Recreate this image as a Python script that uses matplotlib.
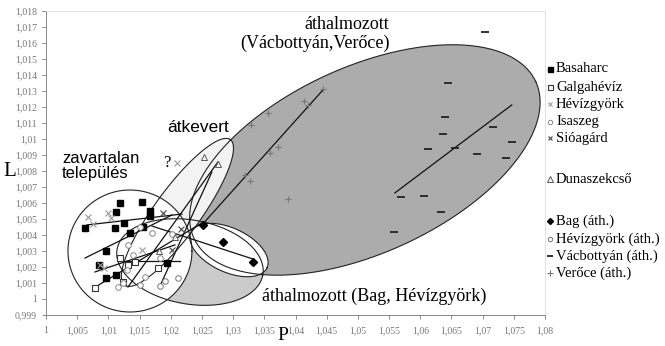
import matplotlib
matplotlib.use("Agg")
import matplotlib.pyplot as plt
import numpy as np
from matplotlib.ticker import FuncFormatter, MultipleLocator

plt.rcParams['font.family'] = ['Liberation Serif', 'DejaVu Serif']

# mért pontok (P, L) lelőhelyenként
basaharc_p = [1.01186, 1.01538, 1.01122, 1.01667, 1.01667, 1.00625, 1.01106, 1.0125,
              1.01346, 1.01554, 1.00962, 1.00849, 1.00962, 1.01122, 1.01939]
basaharc_l = [1.006, 1.00606, 1.00544, 1.0055, 1.00519, 1.00444, 1.00444, 1.00475,
              1.00413, 1.0045, 1.003, 1.00213, 1.00131, 1.0015, 1.00225]

galga_p = [1.00785, 1.01186, 1.01314, 1.01426, 1.01795, 1.01234]
galga_l = [1.00069, 1.00256, 1.00213, 1.00231, 1.00194, 1.00106]

hevizgy_p = [1.00673, 1.00753, 1.00994, 1.01042, 1.01538, 1.00865, 1.0093, 1.021]
hevizgy_l = [1.00513, 1.00469, 1.00538, 1.00506, 1.00306, 1.00213, 1.00194, 1.0085]

isaszeg_p = [1.01506, 1.01699, 1.02019, 1.01314, 1.01394, 1.01827, 1.01298, 1.01234,
             1.01154, 1.01587]
isaszeg_l = [1.0045, 1.00413, 1.00406, 1.00338, 1.00275, 1.00256, 1.00181, 1.001,
             1.00075, 1.00138]

sioagard_p = [1.01875, 1.02019, 1.02163]
sioagard_l = [1.00538, 1.00306, 1.00438]

duna_p = [1.02532, 1.02756, 1.02067, 1.01811]
duna_l = [1.00888, 1.00844, 1.00388, 1.003]

bag_p = [1.02516, 1.02837, 1.03317]
bag_l = [1.00463, 1.00356, 1.00231]

hevizgy_ath_p = [1.01506, 1.01827, 1.02115, 1.01907]
hevizgy_ath_l = [1.00088, 1.00081, 1.00131, 1.00113]

vacb_p = [1.07035, 1.06442, 1.06394, 1.06362, 1.06122, 1.06554, 1.06907, 1.07163,
          1.07468, 1.07372, 1.05689, 1.06058, 1.0633, 1.05577]
vacb_l = [1.01669, 1.0135, 1.01138, 1.01031, 1.00938, 1.00944, 1.00906, 1.01075,
          1.00981, 1.00881, 1.00638, 1.00644, 1.00544, 1.00419]

veroce_p = [1.03285, 1.03558, 1.04135, 1.04199, 1.04439, 1.0359, 1.03718, 1.03189,
            1.03269, 1.03878]
veroce_l = [1.01087, 1.01162, 1.01237, 1.01212, 1.01312, 1.00912, 1.0095, 1.00775,
            1.00737, 1.00625]

# trendvonalak végpontjai
trend_p = [(1.025, 1.04439), (1.05593, 1.07468), (1.01699, 1.03317), (1.00657, 1.02179),
           (1.01154, 1.02147), (1.00625, 1.02019), (1.00785, 1.02067), (1.00817, 1.025),
           (1.02756, 1.01314), (1.02660, 1.01827)]
trend_l = [(1.00463, 1.01306), (1.00663, 1.01213), (1.00456, 1.0025), (1.00463, 1.00531),
           (1.00238, 1.00238), (1.00256, 1.00525), (1.00169, 1.00338), (1.00081, 1.00475),
           (1.00856, 1.00075), (1.00794, 1.00081)]

xmin, xmax = 1.0, 1.08
ymin, ymax = 0.999, 1.018

fig = plt.figure(figsize=(6.65, 3.46), dpi=100)
W, H = 665, 346
ax = fig.add_axes([46 / W, 1 - 315 / H, (545 - 46) / W, (315 - 11) / H])
ax.set_xlim(xmin, xmax)
ax.set_ylim(ymin, ymax)

# képpont / adategység, hogy az ellipszisek a képen legyenek szabályosak
sx = (545 - 46) / (xmax - xmin)
sy = (315 - 11) / (ymax - ymin)


def ellipse_xy(cx, cy, a, b, ang):
    t = np.linspace(0, 2 * np.pi, 300)
    th = np.radians(ang)
    u, v = a * np.cos(t), b * np.sin(t)
    dx = u * np.cos(th) - v * np.sin(th)
    dy = u * np.sin(th) + v * np.cos(th)
    return cx + dx / sx, cy + dy / sy


# (középpont P, középpont L, fél nagytengely, fél kistengely, dőlés), kitöltés
shapes = [
    ((1.02308, 1.00231, 74, 42, -10), '#cbcbcb'),   # áthalmozott (Bag, Hévízgyörk)
    ((1.05112, 1.00869, 188, 93, 24.6), '#acacac'),  # áthalmozott (Vácbottyán, Verőce)
    ((1.02107, 1.00541, 90, 23, 54), '#f3f3f3'),    # átkevert
    ((1.01346, 1.00300, 62, 61, 0), 'white'),       # zavartalan
    ((1.02933, 1.00306, 42, 22, -25), 'white'),     # Bag
]
for i, (geom, fc) in enumerate(shapes):
    ex, ey = ellipse_xy(*geom)
    ax.fill(ex, ey, color=fc, lw=0, zorder=1 + i)
for geom, fc in shapes:
    ex, ey = ellipse_xy(*geom)
    ax.plot(ex, ey, color='#222222', lw=0.8, zorder=7)

for (x0, x1), (y0, y1) in zip(trend_p, trend_l):
    ax.plot([x0, x1], [y0, y1], color='#111111', lw=0.9, zorder=8)

series = [
    ("Basaharc", basaharc_p, basaharc_l, dict(marker='s', ms=4.5, mfc='black', mec='black')),
    ("Galgahévíz", galga_p, galga_l, dict(marker='s', ms=4.5, mfc='white', mec='#333333', mew=0.8)),
    ("Hévízgyörk", hevizgy_p, hevizgy_l, dict(marker='x', ms=4, mec='#999999', mew=0.8)),
    ("Isaszeg", isaszeg_p, isaszeg_l, dict(marker='o', ms=4, mfc='white', mec='#888888', mew=0.7)),
    ("Sióagárd", sioagard_p, sioagard_l, dict(marker='x', ms=4, mec='#555555', mew=0.9)),
    (None, [], [], None),
    ("Dunaszekcső", duna_p, duna_l, dict(marker='^', ms=5, mfc='white', mec='#555555', mew=0.7)),
    (None, [], [], None),
    ("Bag (áth.)", bag_p, bag_l, dict(marker='D', ms=3.8, mfc='black', mec='black')),
    ("Hévízgyörk (áth.)", hevizgy_ath_p, hevizgy_ath_l, dict(marker='o', ms=4, mfc='white', mec='#777777', mew=0.7)),
    ("Vácbottyán (áth.)", vacb_p, vacb_l, dict(marker='_', ms=6, mec='#222222', mew=1.3)),
    ("Verőce (áth.)", veroce_p, veroce_l, dict(marker='+', ms=5, mec='#777777', mew=0.8)),
]
for name, xs, ys, st in series:
    if name is None:
        continue
    ax.plot(xs, ys, ls='none', zorder=9, **st)

# jelmagyarázat a rajzterülettől jobbra
leg_y = [69, 87, 104, 122, 138, 160, 179, 200, 221, 239, 256, 273]
for (name, xs, ys, st), py in zip(series, leg_y):
    if name is None:
        continue
    small = dict(st)
    small['ms'] = st['ms'] * 0.8
    fig.add_artist(plt.Line2D([550 / W], [1 - py / H], ls='none', transform=fig.transFigure, **small))
    fig.text(556 / W, 1 - py / H, name, fontsize=10.5, va='center', ha='left')

# feliratok
ax.text(1.0482, 1.01713, "áthalmozott", fontsize=13, ha='center', va='center', zorder=10)
ax.text(1.0432, 1.01600, "(Vácbottyán,Verőce)", fontsize=13, ha='center', va='center', zorder=10)
ax.text(1.0526, 1.00015, "áthalmozott (Bag, Hévízgyörk)", fontsize=13, ha='center', va='center', zorder=10)
ax.text(1.0244, 1.01075, "átkevert", fontsize=12.5, family=['Liberation Sans'], ha='center', va='center', zorder=10)
ax.text(1.0026, 1.00831, "zavartalan\ntelepülés", fontsize=12, family=['Liberation Sans'],
        ha='left', va='center', linespacing=1.05, zorder=10)
ax.text(1.0194, 1.0085, "?", fontsize=12, ha='center', va='center', zorder=10)

fig.text(10 / W, 1 - 172 / H, "L", fontsize=15, ha='center', va='center')
fig.text(283 / W, 1 - 335 / H, "P", fontsize=14, ha='center', va='center')

fmt = FuncFormatter(lambda v, _: f"{v:.3f}".rstrip('0').rstrip('.').replace('.', ','))
ax.xaxis.set_major_locator(MultipleLocator(0.005))
ax.yaxis.set_major_locator(MultipleLocator(0.001))
ax.xaxis.set_major_formatter(fmt)
ax.yaxis.set_major_formatter(fmt)
ax.tick_params(axis='both', labelsize=7, colors='#777777', length=3, width=0.6)
ax.tick_params(axis='x', pad=5)
for s in ['left', 'bottom']:
    ax.spines[s].set_color('#888888')
    ax.spines[s].set_linewidth(0.7)
for s in ['top', 'right']:
    ax.spines[s].set_color('#dddddd')
    ax.spines[s].set_linewidth(0.6)

fig.savefig("out.png", dpi=100)
